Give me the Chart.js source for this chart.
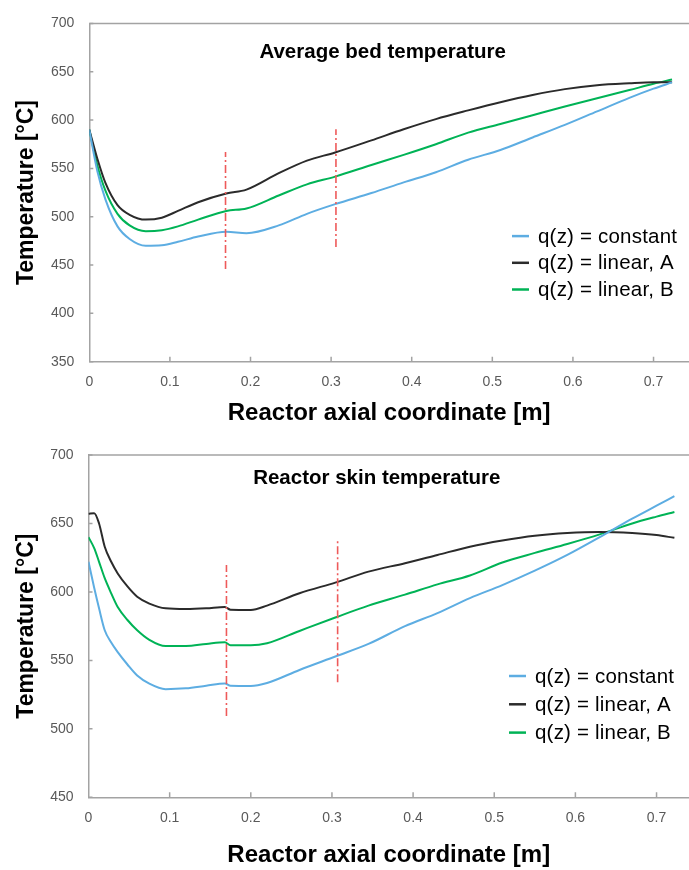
<!DOCTYPE html>
<html>
<head>
<meta charset="utf-8">
<script src="https://cdn.jsdelivr.net/npm/chart.js@4.4.0/dist/chart.umd.min.js"></script>
<style>
html, body { margin: 0; padding: 0; background: #fff; }
canvas { position: absolute; left: 0; }
#bed { top: 0; }
#skin { top: 430px; }
</style>
</head>
<body>
<canvas id="bed" width="689" height="430"></canvas>
<canvas id="skin" width="689" height="440"></canvas>
<script>
// axial position [m] and temperatures [°C]
var zBed = [0, 0.01, 0.02, 0.035, 0.05, 0.07, 0.09, 0.11, 0.135, 0.17, 0.195, 0.235, 0.27, 0.305, 0.35, 0.39, 0.43, 0.47, 0.51, 0.55, 0.59, 0.63, 0.67, 0.70, 0.723];
var bedConst = [590, 547, 518, 490, 477, 470, 470.5, 474, 479.5, 484.5, 483, 491, 503, 513, 524.5, 535.5, 546, 559, 569, 582, 595, 609, 623, 632.5, 639];
var bedLinA = [590, 560, 535, 512, 502, 497, 499, 506, 515, 524, 528, 545, 558, 566.5, 579, 590.5, 601, 610, 618.5, 626, 632, 636, 638, 639, 639];
var bedLinB = [590, 553, 527, 503, 491, 485, 486, 490, 497, 506, 508.5, 522, 533.5, 541.5, 553.5, 564, 575, 587, 596, 605, 614, 622.5, 631, 637.5, 642];

var zSkin = [0, 0.007, 0.013, 0.02, 0.028, 0.036, 0.048, 0.06, 0.075, 0.095, 0.12, 0.145, 0.168, 0.175, 0.2, 0.22, 0.26, 0.305, 0.345, 0.39, 0.43, 0.47, 0.51, 0.55, 0.59, 0.63, 0.67, 0.70, 0.722];
var skinConst = [622, 603, 588, 572, 563, 556, 547, 539, 533, 529, 529.6, 531.5, 533.2, 531.5, 531.3, 533.5, 543, 553, 562, 575, 584.5, 595.5, 605, 615.5, 627, 640, 653.5, 663, 670];
var skinLinA = [657, 657.5, 650, 633, 622, 613.5, 604, 596.5, 591.5, 588, 587.5, 588, 589, 587, 586.8, 590, 599, 607, 614.8, 621, 627, 633, 637.5, 641, 643, 643.8, 643, 641.5, 639.5];
var skinLinB = [640, 632, 622, 610, 599, 589, 579.5, 572, 565, 560.5, 560.5, 562, 563.2, 561, 561, 562.5, 571.5, 581.5, 590, 598, 605.5, 612, 621.5, 628.5, 635, 642, 650, 655, 658.4];

// dash-dot markers: position, lower end, upper end
var markBedZ = [0.169, 0.306];
var markBedLo = [446, 468.6];
var markBedHi = [567, 590.5];
var markSkinZ = [0.17, 0.307];
var markSkinLo = [509.4, 534];
var markSkinHi = [619.7, 637];

var seriesNames = ['q(z) = constant', 'q(z) = linear, A', 'q(z) = linear, B'];
var seriesColors = ['#5dade2', '#2b2b2b', '#00b356'];
var xTicks = [0, 0.1, 0.2, 0.3, 0.4, 0.5, 0.6, 0.7];

var axisGray = '#a3a3a3';
Chart.defaults.font.family = '"Liberation Sans", Arial, sans-serif';

var insideDecor = {
    id: 'insideDecor',
    afterDraw: function (chart, args, opts) {
        var ctx = chart.ctx, a = chart.chartArea;
        var xs = chart.scales.x, ys = chart.scales.y;
        ctx.save();
        ctx.strokeStyle = axisGray;
        ctx.lineWidth = 1.5;
        ctx.beginPath();
        ctx.moveTo(a.left, a.top);
        ctx.lineTo(a.right, a.top);
        ctx.stroke();
        ctx.beginPath();
        xs.ticks.forEach(function (t) {
            if (t.value === 0) return;
            var px = xs.getPixelForValue(t.value);
            ctx.moveTo(px, a.bottom);
            ctx.lineTo(px, a.bottom - 5);
        });
        ys.ticks.forEach(function (t) {
            var py = ys.getPixelForValue(t.value);
            ctx.moveTo(a.left, py);
            ctx.lineTo(a.left + 4, py);
        });
        ctx.stroke();

        // caption inside the plot
        ctx.fillStyle = '#000';
        ctx.font = 'bold 20.5px "Liberation Sans"';
        ctx.textAlign = 'center';
        ctx.textBaseline = 'alphabetic';
        ctx.fillText(opts.text, (a.left + a.right) / 2 + opts.dx, a.top + opts.dy);

        // legend inside the plot
        ctx.font = '20.5px "Liberation Sans"';
        ctx.letterSpacing = '0.2px';
        ctx.textAlign = 'left';
        ctx.textBaseline = 'middle';
        var row = 0;
        chart.data.datasets.forEach(function (ds) {
            if (!ds.label) return;
            var y = a.top + opts.legendTop + row * opts.legendGap;
            ctx.strokeStyle = ds.borderColor;
            ctx.lineWidth = 2.5;
            ctx.beginPath();
            ctx.moveTo(a.right - opts.legendRight, y);
            ctx.lineTo(a.right - opts.legendRight + 17, y);
            ctx.stroke();
            ctx.fillStyle = '#000';
            ctx.fillText(ds.label, a.right - opts.legendRight + 26, y + 1);
            row++;
        });
        ctx.restore();
    }
};

function curve(zs, ts, i) {
    return {
        label: seriesNames[i],
        data: zs.map(function (z, k) { return { x: z, y: ts[k] }; }),
        borderColor: seriesColors[i],
        borderWidth: 2,
        pointRadius: 0,
        cubicInterpolationMode: 'monotone',
        fill: false,
        order: 2
    };
}

function marker(z, lo, hi) {
    return {
        label: '',
        data: [{ x: z, y: lo }, { x: z, y: hi }],
        borderColor: '#ee5a5a',
        borderWidth: 1.6,
        borderDash: [8, 3, 2, 3],
        pointRadius: 0,
        fill: false,
        order: 1
    };
}

function makeChart(id, cfg) {
    var datasets = [
        curve(cfg.z, cfg.series[0], 0),
        curve(cfg.z, cfg.series[1], 1),
        curve(cfg.z, cfg.series[2], 2)
    ];
    for (var i = 0; i < cfg.markZ.length; i++) {
        datasets.push(marker(cfg.markZ[i], cfg.markLo[i], cfg.markHi[i]));
    }
    return new Chart(document.getElementById(id).getContext('2d'), {
        type: 'line',
        data: { datasets: datasets },
        options: {
            responsive: false,
            animation: false,
            layout: { padding: { top: cfg.padTop, left: 0, right: 0, bottom: 0 } },
            plugins: {
                legend: { display: false },
                tooltip: { enabled: false },
                insideDecor: cfg.decor
            },
            scales: {
                x: {
                    type: 'linear',
                    min: 0,
                    max: cfg.xMax,
                    afterBuildTicks: function (s) {
                        s.ticks = xTicks.map(function (v) { return { value: v }; });
                    },
                    afterFit: function (s) { s.height = cfg.xHeight; },
                    grid: { display: false, drawTicks: false },
                    border: { color: axisGray, width: 1.5 },
                    ticks: {
                        padding: 12.5,
                        color: '#595959',
                        font: { size: 14 },
                        callback: function (v) { return String(v); }
                    },
                    title: {
                        display: true,
                        text: 'Reactor axial coordinate [m]',
                        color: '#000',
                        font: { size: 24, weight: 'bold' },
                        padding: { top: 0, bottom: cfg.xTitlePad }
                    }
                },
                y: {
                    min: cfg.yMin,
                    max: 700,
                    afterFit: function (s) { s.width = cfg.yWidth; },
                    grid: { display: false, drawTicks: false },
                    border: { color: axisGray, width: 1.5 },
                    ticks: {
                        stepSize: 50,
                        padding: 15,
                        color: '#595959',
                        font: { size: 14 }
                    },
                    title: {
                        display: true,
                        text: 'Temperature [°C]',
                        color: '#000',
                        font: { size: 23, weight: 'bold' },
                        padding: { top: 13, bottom: 0 }
                    }
                }
            }
        },
        plugins: [insideDecor]
    });
}

var bedChart = makeChart('bed', {
    z: zBed,
    series: [bedConst, bedLinA, bedLinB],
    markZ: markBedZ, markLo: markBedLo, markHi: markBedHi,
    yMin: 350, xMax: 0.744, yWidth: 89.3, xHeight: 68.3, padTop: 17.3, xTitlePad: 2.6,
    decor: { text: 'Average bed temperature', dx: -6.5, dy: 34.4, legendTop: 212.7, legendGap: 26.7, legendRight: 177 }
});

var skinChart = makeChart('skin', {
    z: zSkin,
    series: [skinConst, skinLinA, skinLinB],
    markZ: markSkinZ, markLo: markSkinLo, markHi: markSkinHi,
    yMin: 450, xMax: 0.74, yWidth: 88.5, xHeight: 72.7, padTop: 25, xTitlePad: 0.6,
    decor: { text: 'Reactor skin temperature', dx: -12, dy: 29, legendTop: 221, legendGap: 28.3, legendRight: 180 }
});
</script>
</body>
</html>
